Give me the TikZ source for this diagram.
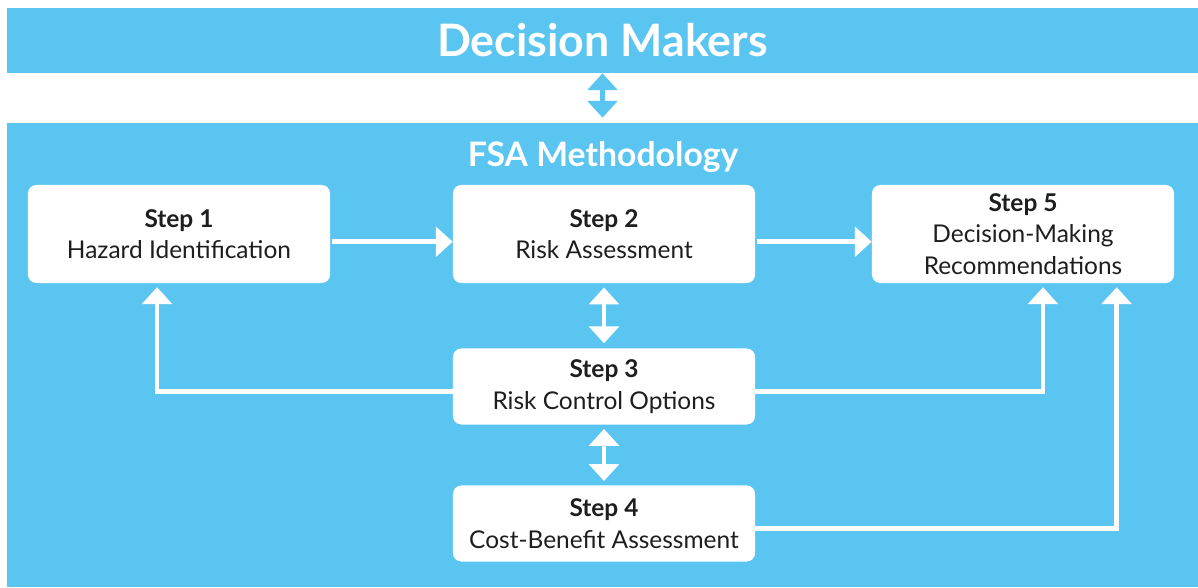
\documentclass[tikz,border=0pt]{standalone}
\usepackage{fontspec}
\setmainfont{Lato}
\usetikzlibrary{arrows.meta}
\definecolor{sky}{HTML}{5BC5F2}
\definecolor{ink}{HTML}{1E1E1E}

\begin{document}
\begin{tikzpicture}[x=0.025cm,y=-0.025cm,every node/.style={font=\fontsize{17.4}{22.5}\selectfont,text=ink},
band/.style={fill=sky,minimum width=29.775cm,inner sep=0},
box/.style={fill=white,rounded corners=6pt,minimum width=7.55cm,align=center,inner sep=0},
link/.style={white,line width=3.4pt,-{Triangle[length=12pt,width=21pt]}},
both/.style={link,{Triangle[length=12pt,width=21pt]}-{Triangle[length=12pt,width=21pt]}}]
\useasboundingbox (0,0) rectangle (1198,587);
\node[band,minimum height=1.625cm,font=\fontsize{31.8}{36}\selectfont\bfseries,text=white] (dm) at (602.5,40.5) {Decision Makers};
\node[band,minimum height=11.6cm] (fsa) at (602.5,355) {};
\node[font=\fontsize{24}{28}\selectfont\bfseries,text=white] (ttl) at (603,157) {FSA Methodology};
\node[box,minimum height=2.45cm] (s1) at (179,234) {\textbf{Step 1}\\Hazard Identification};
\node[box,minimum height=2.45cm] (s2) at (604,234) {\textbf{Step 2}\\Risk Assessment};
\node[box,minimum height=2.45cm] (s5) at (1023,234) {\textbf{Step 5}\\Decision-Making\\Recommendations};
\node[box,minimum height=1.9cm] (s3) at (604,386.5) {\textbf{Step 3}\\Risk Control Options};
\node[box,minimum height=1.9cm] (s4) at (604,523.5) {\textbf{Step 4}\\Cost-Benefit Assessment};
\draw[both,sky,shorten >=3.5pt] (dm) -- (fsa);
\draw[link,shorten <=1.5pt] ([yshift=-5.5pt]s1.east) -- ([yshift=-5.5pt]s2.west);
\draw[link,shorten <=1.5pt] ([yshift=-5.5pt]s2.east) -- ([yshift=-5.5pt]s5.west);
\draw[both,shorten <=3pt,shorten >=3.5pt] (s2) -- (s3);
\draw[both,shorten <=3pt,shorten >=3pt] (s3) -- (s4);
\draw[link,shorten >=2.8pt] ([yshift=-3.5pt]s3.west) -| ([xshift=-15.6pt]s1.south);
\draw[link,shorten >=2.8pt] ([yshift=-3.5pt]s3.east) -| ([xshift=14.2pt]s5.south);
\draw[link,shorten >=2.8pt] ([yshift=-3.5pt]s4.east) -| ([xshift=66.6pt]s5.south);
\end{tikzpicture}
\end{document}
